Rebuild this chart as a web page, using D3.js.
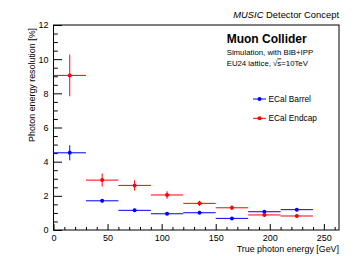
<!DOCTYPE html>
<html>
<head>
<meta charset="utf-8">
<script src="https://cdn.jsdelivr.net/npm/d3@7"></script>
<style>
  body { margin: 0; background: #fff; }
  svg { font-family: "Liberation Sans", Arial, sans-serif; }
  .frame { fill: none; stroke: #000; stroke-width: 1; }
  .tick line { stroke: #000; }
</style>
</head>
<body>
<script>
// Data
var binEdges = [0, 30, 60, 90, 120, 150, 180, 210, 240];
var binCenters = [15, 45, 75, 105, 135, 165, 195, 225];
var barrelRes = [4.52, 1.71, 1.15, 0.95, 1.01, 0.68, 1.07, 1.19];
var barrelErr = [0.44, 0.10, 0.06, 0.05, 0.06, 0.05, 0.06, 0.07];
var endcapRes = [9.05, 2.92, 2.61, 2.05, 1.56, 1.30, 0.88, 0.82];
var endcapErr = [1.22, 0.38, 0.30, 0.22, 0.15, 0.13, 0.09, 0.09];
var seriesNames = ["ECal Barrel", "ECal Endcap"];
var seriesColors = ["#0000ff", "#ff0000"];
var xMajorTicks = [0, 50, 100, 150, 200, 250];
var yMajorTicks = [0, 2, 4, 6, 8, 10, 12];

var w = 357;
var h = 256;
var padL = 53.5, padR = 339, padT = 25, padB = 230;

var xScale = d3.scaleLinear().
domain([0, 264]).
range([padL, padR]);

var yScale = d3.scaleLinear().
domain([0, 12]).
range([padB, padT]);

var svg = d3.select("body").
append("svg").
attr("width", w).
attr("height", h);

// minor ticks
var xMinor = d3.range(0, 261, 10).filter(function (v) {return v % 50 !== 0;});
var yMinor = d3.range(0, 12.01, 0.5).filter(function (v) {return v % 2 !== 0;});

svg.append("g").
attr("transform", "translate(0," + padB + ")").
call(d3.axisBottom(xScale).tickValues(xMinor).tickSize(-3).tickFormat("")).
select(".domain").remove();

svg.append("g").
attr("transform", "translate(" + padL + ",0)").
call(d3.axisLeft(yScale).tickValues(yMinor).tickSize(-4.3).tickFormat("")).
select(".domain").remove();

// major ticks with labels
var xAxis = svg.append("g").
attr("transform", "translate(0," + padB + ")").
call(d3.axisBottom(xScale).tickValues(xMajorTicks).tickSize(-6));
xAxis.select(".domain").remove();
xAxis.selectAll("text").
style("font-size", "9px").
attr("dy", "0.71em").
attr("y", 4.5).
attr("fill", "#000");

var yAxis = svg.append("g").
attr("transform", "translate(" + padL + ",0)").
call(d3.axisLeft(yScale).tickValues(yMajorTicks).tickSize(-8.5));
yAxis.select(".domain").remove();
yAxis.selectAll("text").
style("font-size", "9px").
attr("x", -5).
attr("fill", "#000");

// frame
svg.append("rect").
attr("class", "frame").
attr("x", padL).
attr("y", padT).
attr("width", padR - padL).
attr("height", padB - padT);

// axis titles
svg.append("text").
attr("x", padR).
attr("y", 251.5).
attr("text-anchor", "end").
style("font-size", "8.9px").
text("True photon energy [GeV]");

svg.append("text").
attr("transform", "translate(34.5," + 28 + ") rotate(-90)").
attr("text-anchor", "end").
style("font-size", "8.9px").
text("Photon energy resolution [%]");

// header texts
var head = svg.append("text").
attr("x", padR).
attr("y", 18.3).
attr("text-anchor", "end").
style("font-size", "9.4px");
head.append("tspan").style("font-style", "italic").text("MUSIC");
head.append("tspan").text(" Detector Concept");

svg.append("text").
attr("x", 226.7).
attr("y", 42.7).
style("font-size", "12px").
style("font-weight", "bold").
text("Muon Collider");

svg.append("text").
attr("x", 226.7).
attr("y", 54.8).
style("font-size", "7.8px").
text("Simulation, with BIB+IPP");

var eu = svg.append("text").
attr("x", 226.7).
attr("y", 65.5).
style("font-size", "7.8px");
eu.append("tspan").text("EU24 lattice, \u221A");
eu.append("tspan").style("text-decoration", "overline").text("s");
eu.append("tspan").text("=10TeV");

// series
var series = [
  {name: seriesNames[0], color: seriesColors[0], res: barrelRes, err: barrelErr},
  {name: seriesNames[1], color: seriesColors[1], res: endcapRes, err: endcapErr}
];

series.forEach(function (s) {
  var g = svg.append("g");
  var pts = binCenters.map(function (c, i) {
    return {x: c, lo: binEdges[i], hi: binEdges[i + 1], y: s.res[i], e: s.err[i]};
  });

  g.selectAll("line.h").
  data(pts).
  enter().append("line").
  attr("class", "h").
  attr("x1", function (d) {return xScale(d.lo);}).
  attr("x2", function (d) {return xScale(d.hi);}).
  attr("y1", function (d) {return yScale(d.y);}).
  attr("y2", function (d) {return yScale(d.y);}).
  attr("stroke", s.color).
  attr("stroke-width", 1);

  g.selectAll("line.v").
  data(pts).
  enter().append("line").
  attr("class", "v").
  attr("x1", function (d) {return xScale(d.x);}).
  attr("x2", function (d) {return xScale(d.x);}).
  attr("y1", function (d) {return yScale(d.y - d.e);}).
  attr("y2", function (d) {return yScale(d.y + d.e);}).
  attr("stroke", s.color).
  attr("stroke-width", 1);

  g.selectAll("circle").
  data(pts).
  enter().append("circle").
  attr("cx", function (d) {return xScale(d.x);}).
  attr("cy", function (d) {return yScale(d.y);}).
  attr("r", 2).
  attr("fill", s.color);
});

// legend
var legend = svg.selectAll(".legend").
data(series).
enter().append("g").
attr("class", "legend").
attr("transform", function (d, i) {return "translate(0," + (99 + i * 19.3) + ")";});

legend.append("line").
attr("x1", 253).
attr("x2", 266).
attr("stroke", function (d) {return d.color;});

legend.append("circle").
attr("cx", 259.5).
attr("r", 2).
attr("fill", function (d) {return d.color;});

legend.append("text").
attr("x", 268.5).
attr("dy", "0.35em").
style("font-size", "8.3px").
text(function (d) {return d.name;});
</script>
</body>
</html>
